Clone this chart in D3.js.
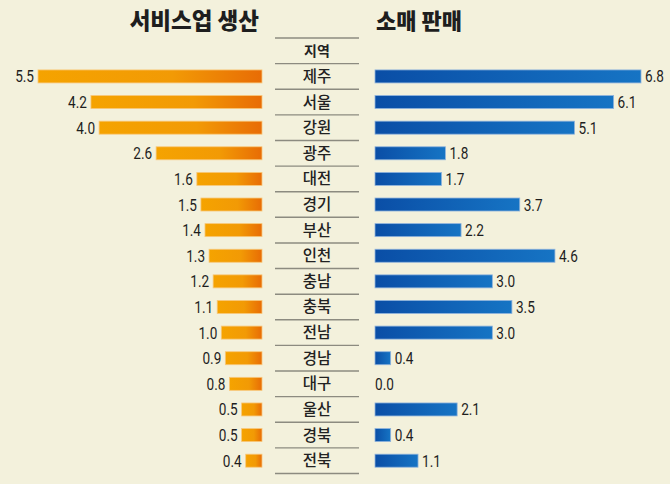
<!DOCTYPE html>
<html><head><meta charset="utf-8">
<script src="https://cdn.jsdelivr.net/npm/d3@7"></script>
<style>
html,body{margin:0;padding:0;background:#f3f1dc;}
svg{display:block;}
</style></head>
<body>
<svg id="chart" width="670" height="484"></svg>
<script>
const regions = ["제주","서울","강원","광주","대전","경기","부산","인천","충남","충북","전남","경남","대구","울산","경북","전북"];
const serviceValues = [5.5,4.2,4.0,2.6,1.6,1.5,1.4,1.3,1.2,1.1,1.0,0.9,0.8,0.5,0.5,0.4];
const retailValues = [6.8,6.1,5.1,1.8,1.7,3.7,2.2,4.6,3.0,3.5,3.0,0.4,0.0,2.1,0.4,1.1];
const headerLabel = "지역";
const leftTitle = "서비스업 생산";
const rightTitle = "소매 판매";

const svg = d3.select("#chart");
const W = 670, H = 484;
svg.append("rect").attr("width", W).attr("height", H).attr("fill", "#f3f1dc");

const defs = svg.append("defs");
const gL = defs.append("linearGradient").attr("id","gradL").attr("x1","0").attr("x2","1").attr("y1","0").attr("y2","0");
gL.append("stop").attr("offset","0%").attr("stop-color","#f5a300");
gL.append("stop").attr("offset","60%").attr("stop-color","#f29a05");
gL.append("stop").attr("offset","100%").attr("stop-color","#e86c05");
const gR = defs.append("linearGradient").attr("id","gradR").attr("x1","0").attr("x2","1").attr("y1","0").attr("y2","0");
gR.append("stop").attr("offset","0%").attr("stop-color","#0a4ea6");
gR.append("stop").attr("offset","100%").attr("stop-color","#1674c4");

const rows = [headerLabel, ...regions];
const y = d3.scaleBand().domain(rows).range([38, 473.5]).paddingInner(0).paddingOuter(0);
const barH = 13;

const leftEnd = 262, rightStart = 375;
const xL = d3.scaleLinear().domain([0, 5.5]).range([0, 224]);
const xR = d3.scaleLinear().domain([0, 6.8]).range([0, 266]);

const cx = 317;
const krFont = "'Noto Sans CJK KR', 'Noto Sans', sans-serif";
const numFont = "Roboto, 'DejaVu Sans Condensed', sans-serif";
const sx = 0.8;

// titles
svg.append("text").attr("x", 259).attr("y", 29).attr("text-anchor","end")
  .attr("font-family", krFont).attr("font-weight", 900).attr("font-size", 22.5).attr("fill","#1e1e1e")
  .text(leftTitle);
svg.append("text").attr("x", 376).attr("y", 29).attr("text-anchor","start")
  .attr("font-family", krFont).attr("font-weight", 900).attr("font-size", 22).attr("fill","#1e1e1e")
  .text(rightTitle);

// separators
const lineYs = [y(headerLabel), ...rows.map(r => y(r) + y.bandwidth())];
svg.append("g").selectAll("line").data(lineYs).join("line")
  .attr("x1", 275).attr("x2", 359).attr("y1", d => d).attr("y2", d => d)
  .attr("stroke", "#8c8b80").attr("stroke-width", 1.4);

// labels in center
svg.append("g").selectAll("text").data(rows).join("text")
  .attr("x", cx).attr("y", d => y(d) + y.bandwidth()/2 + 5.5)
  .attr("text-anchor","middle")
  .attr("font-family", krFont)
  .attr("font-weight", (d,i) => i === 0 ? 700 : 500)
  .attr("font-size", (d,i) => i === 0 ? 14 : 15.5)
  .attr("fill", "#222")
  .text(d => d);

const data = regions.map((r, i) => ({r, s: serviceValues[i], v: retailValues[i]}));
const by = d => y(d.r) + y.bandwidth()/2 - barH/2;

// left bars
const lg = svg.append("g");
lg.selectAll("rect").data(data).join("rect")
  .attr("x", d => leftEnd - xL(d.s)).attr("y", by)
  .attr("width", d => xL(d.s)).attr("height", barH)
  .attr("fill", "url(#gradL)")
  .attr("stroke", "#f8c87a").attr("stroke-width", 0.8);
lg.selectAll("text").data(data).join("text")
  .attr("transform", d => `translate(${leftEnd - xL(d.s) - 4},${y(d.r) + y.bandwidth()/2 + 6}) scale(${sx},1)`)
  .attr("text-anchor","end").attr("font-family", numFont).attr("font-weight", 400).attr("font-size", 17)
  .attr("fill","#1e1e1e").text(d => d.s.toFixed(1));

// right bars
const rg = svg.append("g");
rg.selectAll("rect").data(data.filter(d => d.v > 0)).join("rect")
  .attr("x", rightStart).attr("y", by)
  .attr("width", d => xR(d.v)).attr("height", barH)
  .attr("fill", "url(#gradR)")
  .attr("stroke", "#8fb3dc").attr("stroke-width", 0.8);
rg.selectAll("text").data(data).join("text")
  .attr("transform", d => `translate(${rightStart + xR(d.v) + (d.v > 0 ? 4 : 0)},${y(d.r) + y.bandwidth()/2 + 6}) scale(${sx},1)`)
  .attr("text-anchor","start").attr("font-family", numFont).attr("font-weight", 400).attr("font-size", 17)
  .attr("fill","#1e1e1e").text(d => d.v.toFixed(1));
</script>
</body></html>
